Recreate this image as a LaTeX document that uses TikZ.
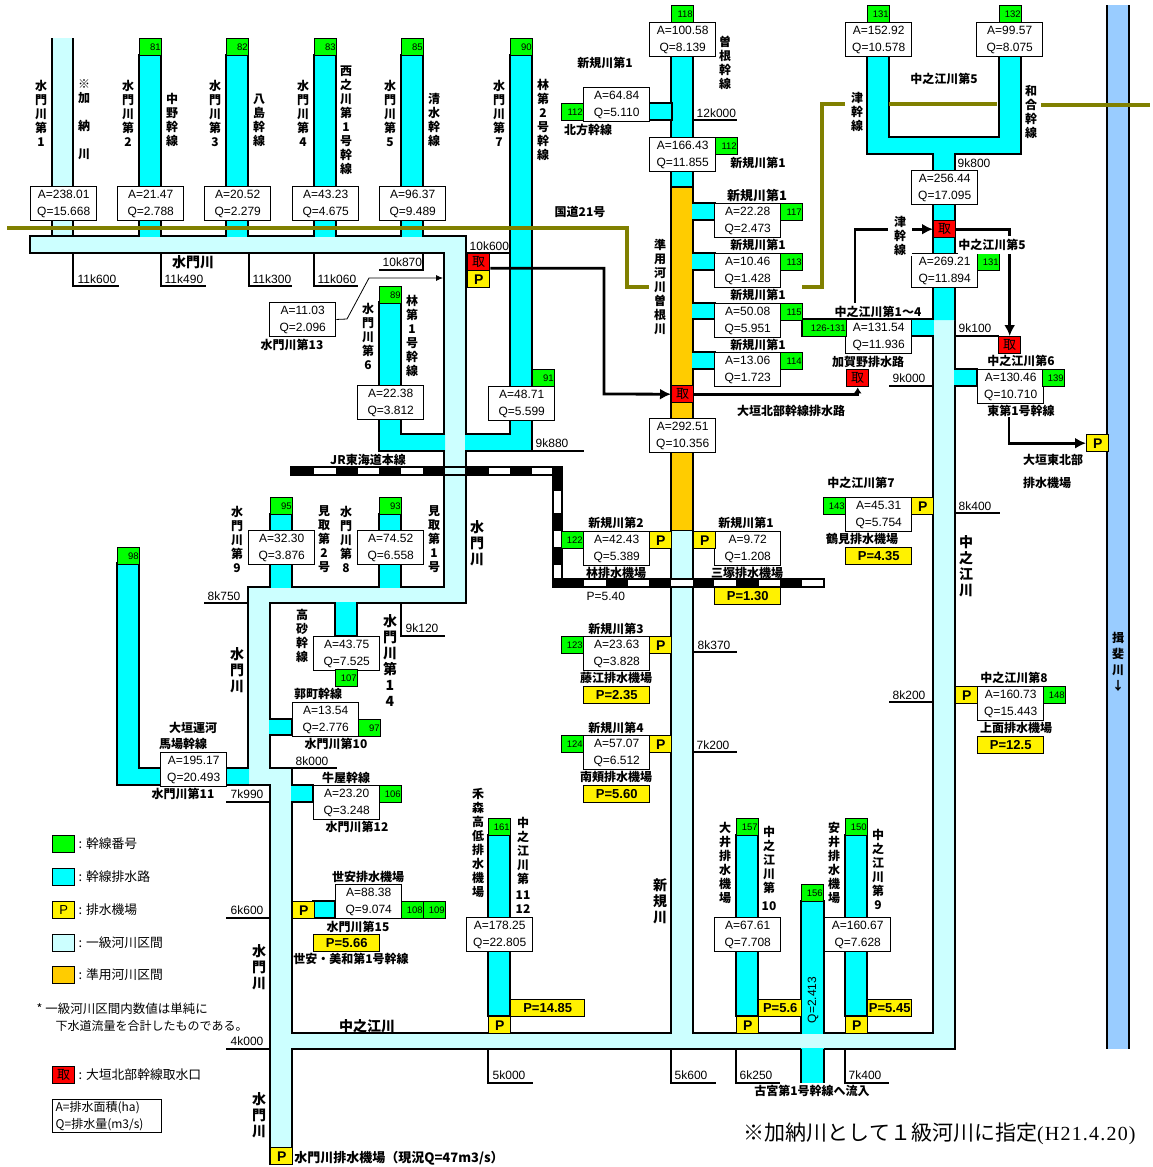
\documentclass[tikz,border=0pt]{standalone}
\usepackage{fontspec}
\setmainfont{Liberation Sans}
\newfontfamily\cjk{Noto Sans CJK JP}
\newfontfamily\footserif[LetterSpace=6]{Liberation Serif}
\usetikzlibrary{arrows.meta}
\definecolor{numgreen}{HTML}{00FF00}
\definecolor{trunkcyan}{HTML}{00FFFF}
\definecolor{rivercyan}{HTML}{CCFFFF}
\definecolor{semiorange}{HTML}{FFCC00}
\definecolor{bigblue}{HTML}{99CCFF}
\definecolor{roadolive}{HTML}{808000}
\tikzset{
  aqbox/.style={draw, fill=white, anchor=north west, inner sep=0pt, minimum width=66pt, minimum height=33.5pt, align=center, font=\fontsize{12}{17}\selectfont, execute at begin node={\rule{0pt}{13pt}}},
  numbox/.style={draw, fill=numgreen, anchor=north west, inner sep=0pt, minimum width=22pt, minimum height=17pt, text width=20pt, align=right, font=\fontsize{9.5}{10}\selectfont},
  pumpbox/.style={draw, fill=yellow, anchor=north west, inner sep=0pt, minimum width=22pt, minimum height=17pt, font=\bfseries\fontsize{14}{14}\selectfont},
  powerbox/.style={draw, fill=yellow, anchor=north west, inner sep=0pt, minimum width=66pt, minimum height=17pt, font=\bfseries\fontsize{13}{13}\selectfont},
  intake/.style={draw, fill=red, anchor=north west, inner sep=0pt, minimum width=22pt, minimum height=17pt, font=\cjk\fontsize{13}{13}\selectfont},
  lab/.style={inner sep=0pt, align=center, font=\cjk\bfseries\fontsize{12}{14}\selectfont},
  biglab/.style={inner sep=0pt, align=center, font=\cjk\bfseries\fontsize{14}{16}\selectfont},
  km/.style={anchor=west, inner sep=0pt, font=\fontsize{12}{12}\selectfont},
  legtxt/.style={anchor=west, inner sep=0pt, font=\cjk\fontsize{12.8}{14}\selectfont},
  trunk/.style={draw, fill=trunkcyan},
  road/.style={draw=roadolive, line width=3.5pt},
  flow/.style={line width=2.8pt, -{Latex[length=11pt,width=11pt]}},
  railblack/.style={fill=black}
}
\begin{document}
\begin{tikzpicture}[x=1pt,y=-1pt,line width=1.4pt]
  \useasboundingbox (0,0) rectangle (1153,1167);

  % Big river on the right
  \fill[bigblue] (1107,5) rectangle (1129,1049);
  \draw (1107,5) -- (1107,1049) (1129,5) -- (1129,1049);

  % Main rivers, one outline
  \fill[rivercyan] (52,38) rectangle (73,237);
  \draw (52,38) -- (52,236) (73,38) -- (73,236);
  \draw[fill=rivercyan] (30,236) -- (466,236) -- (466,603) -- (270,603) -- (270,768) -- (292,768) -- (292,1033)
    -- (671,1033) -- (671,530) -- (693,530) -- (693,1033) -- (933,1033) -- (933,319) -- (955,319) -- (955,1049)
    -- (292,1049) -- (292,1164) -- (270,1164) -- (270,785) -- (248,785) -- (248,587) -- (444,587) -- (444,253)
    -- (30,253) -- cycle;

  % Shinki river, upper part
  \fill[trunkcyan] (671,55) rectangle (693,187);
  \fill[semiorange] (671,187) rectangle (693,530);
  \draw (671,55) -- (671,530) (693,55) -- (693,530) (671,187) -- (693,187);

  % Trunk channels
  \draw[trunk] (139,237) -- (139,55) -- (161,55) -- (161,237);
  \draw[trunk] (226,237) -- (226,55) -- (248,55) -- (248,237);
  \draw[trunk] (314,237) -- (314,55) -- (336,55) -- (336,237);
  \draw[trunk] (401,237) -- (401,55) -- (423,55) -- (423,237);
  \draw[trunk] (445,451) -- (379,451) -- (379,302) -- (401,302) -- (401,434) -- (445,434);
  \draw[trunk] (465,451) -- (532,451) -- (532,55) -- (510,55) -- (510,434) -- (465,434);
  \draw[trunk] (270,588) -- (270,514) -- (292,514) -- (292,588);
  \draw[trunk] (379,588) -- (379,514) -- (401,514) -- (401,588);
  \draw[trunk] (249,785) -- (117,785) -- (117,563) -- (139,563) -- (139,768) -- (249,768);
  \draw[trunk] (335,602) -- (335,636) -- (357,636) -- (357,602);
  \draw[trunk] (269,719) -- (292,719) -- (292,735) -- (269,735);
  \draw[trunk] (291,785) -- (313,785) -- (313,802) -- (291,802);
  \draw[trunk] (313,901) -- (335,901) -- (335,918) -- (313,918) -- cycle;
  \draw[trunk] (488,1016) -- (488,835) -- (510,835) -- (510,1016) -- cycle;
  \draw[trunk] (736,1016) -- (736,835) -- (758,835) -- (758,1016) -- cycle;
  \draw[trunk] (845,1016) -- (845,835) -- (867,835) -- (867,1016) -- cycle;
  \draw[trunk] (801,1034) -- (801,901) -- (824,901) -- (824,1034);
  \fill[trunkcyan] (801,1048) rectangle (824,1083);
  \draw (801,1049) -- (801,1083) (824,1049) -- (824,1083);
  \draw[trunk] (649,103) -- (672,103) -- (672,120) -- (649,120);
  \draw[trunk] (692,203) -- (715,203) -- (715,220) -- (692,220);
  \draw[trunk] (692,253) -- (715,253) -- (715,270) -- (692,270);
  \draw[trunk] (692,303) -- (715,303) -- (715,319) -- (692,319);
  \draw[trunk] (692,352) -- (715,352) -- (715,369) -- (692,369);
  \draw[trunk] (954,369) -- (977,369) -- (977,386) -- (954,386);
  \draw[trunk] (955,320) -- (955,154) -- (1021,154) -- (1021,55) -- (999,55) -- (999,137) -- (889,137) -- (889,55)
    -- (867,55) -- (867,154) -- (933,154) -- (933,320);
  \draw[trunk] (934,319) -- (802,319) -- (802,336) -- (934,336);

  % JR line
  \draw[fill=white] (291,467) rectangle (562,475);
  \draw[fill=white] (553,467) rectangle (562,587);
  \draw[fill=white] (553,579) rectangle (824,587);
  \draw[fill=rivercyan] (444,467) rectangle (466,475);
  \foreach \a/\b in {291/314,336/358,379/401,423/444,466/489,510/532,553/562}
    \fill[railblack] (\a,467) rectangle (\b,475);
  \foreach \a/\b in {467/491,513/531,547/565,579/587}
    \fill[railblack] (553,\a) rectangle (562,\b);
  \foreach \a/\b in {553/584,606/628,649/671,693/714,736/759,780/802}
    \fill[railblack] (\a,579) rectangle (\b,587);

  % Road
  \draw[road] (7,228) -- (627,228) -- (627,287) -- (649,287);
  \draw[road] (802,287) -- (822,287) -- (822,104) -- (845,104);
  \draw[road] (889,104) -- (997,104);
  \draw[road] (1041,105) -- (1150,105);

  % Distance marks
  \draw (73,253) |- (119,286);
  \draw (161,253) |- (206,286);
  \draw (249,253) |- (292,286);
  \draw (314,253) |- (358,286);
  \draw (423,253) |- (379,270);
  \draw (466,253) -- (510,253);
  \draw (532,451) -- (584,451);
  \draw (693,120) -- (737,120);
  \draw (955,336) -- (999,336);
  \draw (889,386) -- (933,386);
  \draw (955,513) -- (1000,513);
  \draw (693,652) -- (737,652);
  \draw (693,752) -- (737,752);
  \draw (889,702) -- (933,702);
  \draw (204,603) -- (248,603);
  \draw (401,603) |- (445,636);
  \draw (292,768) -- (337,768);
  \draw (226,802) -- (270,802);
  \draw (226,918) -- (270,918);
  \draw (226,1049) -- (270,1049);
  \draw (488,1049) |- (533,1083);
  \draw (671,1049) |- (716,1083);
  \draw (736,1049) |- (780,1083);
  \draw (845,1049) |- (889,1083);
  \node[km] (k11600) at (77,279) {11k600};
  \node[km] (k11490) at (164,279) {11k490};
  \node[km] (k11300) at (252,279) {11k300};
  \node[km] (k11060) at (317,279) {11k060};
  \node[km] (k10870) at (382,262) {10k870};
  \node[km] (k10600) at (469,246) {10k600};
  \node[km] (k9880) at (535,443) {9k880};
  \node[km] (k12000) at (696,113) {12k000};
  \node[km] (k9800) at (957,163) {9k800};
  \node[km] (k9100) at (958,328) {9k100};
  \node[km] (k9000) at (892,378) {9k000};
  \node[km] (k8400) at (958,506) {8k400};
  \node[km] (k8370) at (697,645) {8k370};
  \node[km] (k7200) at (696,745) {7k200};
  \node[km] (k8200) at (892,695) {8k200};
  \node[km] (k8750) at (207,596) {8k750};
  \node[km] (k9120) at (405,628) {9k120};
  \node[km] (k8000) at (295,761) {8k000};
  \node[km] (k7990) at (230,794) {7k990};
  \node[km] (k6600) at (230,910) {6k600};
  \node[km] (k4000) at (230,1041) {4k000};
  \node[km] (k5000) at (492,1075) {5k000};
  \node[km] (k5600) at (674,1075) {5k600};
  \node[km] (k6250) at (739,1075) {6k250};
  \node[km] (k7400) at (848,1075) {7k400};
  \node[km] (p540) at (586,596) {P=5.40};
  \node[km, rotate=90, anchor=center] (q156) at (813,1000) {Q=2.413};

  % Area boxes
  \node[aqbox] (a1) at (30,186) {A=238.01\\Q=15.668};
  \node[aqbox] (a2) at (117,186) {A=21.47\\Q=2.788};
  \node[aqbox] (a3) at (204,186) {A=20.52\\Q=2.279};
  \node[aqbox] (a4) at (292,186) {A=43.23\\Q=4.675};
  \node[aqbox] (a5) at (379,186) {A=96.37\\Q=9.489};
  \node[aqbox] (a13) at (269,302) {A=11.03\\Q=2.096};
  \node[aqbox] (a6) at (357,385) {A=22.38\\Q=3.812};
  \node[aqbox] (a7) at (488,386) {A=48.71\\Q=5.599};
  \node[aqbox] (a9) at (248,530) {A=32.30\\Q=3.876};
  \node[aqbox] (a8) at (357,530) {A=74.52\\Q=6.558};
  \node[aqbox] (a14) at (313,636) {A=43.75\\Q=7.525};
  \node[aqbox] (a10) at (292,702) {A=13.54\\Q=2.776};
  \node[aqbox] (a11) at (160,752) {A=195.17\\Q=20.493};
  \node[aqbox] (a12) at (313,785) {A=23.20\\Q=3.248};
  \node[aqbox] (a15) at (335,884) {A=88.38\\Q=9.074};
  \node[aqbox] (c11) at (466,917) {A=178.25\\Q=22.805};
  \node[aqbox] (c10) at (714,917) {A=67.61\\Q=7.708};
  \node[aqbox] (c9) at (824,917) {A=160.67\\Q=7.628};
  \node[aqbox] (s118) at (649,22) {A=100.58\\Q=8.139};
  \node[aqbox] (s112a) at (583,87) {A=64.84\\Q=5.110};
  \node[aqbox] (s112b) at (649,137) {A=166.43\\Q=11.855};
  \node[aqbox] (s117) at (714,203) {A=22.28\\Q=2.473};
  \node[aqbox] (s113) at (714,253) {A=10.46\\Q=1.428};
  \node[aqbox] (s115) at (714,303) {A=50.08\\Q=5.951};
  \node[aqbox] (s114) at (714,352) {A=13.06\\Q=1.723};
  \node[aqbox] (s292) at (649,418) {A=292.51\\Q=10.356};
  \node[aqbox] (s2) at (583,531) {A=42.43\\Q=5.389};
  \node[aqbox] (s1) at (714,531) {A=9.72\\Q=1.208};
  \node[aqbox] (s3) at (583,636) {A=23.63\\Q=3.828};
  \node[aqbox] (s4) at (583,735) {A=57.07\\Q=6.512};
  \node[aqbox] (c131) at (845,22) {A=152.92\\Q=10.578};
  \node[aqbox] (c132) at (976,22) {A=99.57\\Q=8.075};
  \node[aqbox] (c256) at (911,170) {A=256.44\\Q=17.095};
  \node[aqbox] (c269) at (911,253) {A=269.21\\Q=11.894};
  \node[aqbox] (c14) at (845,319) {A=131.54\\Q=11.936};
  \node[aqbox] (c6) at (977,369) {A=130.46\\Q=10.710};
  \node[aqbox] (c7) at (845,497) {A=45.31\\Q=5.754};
  \node[aqbox] (c8) at (977,686) {A=160.73\\Q=15.443};

  % Trunk numbers
  \node[numbox] (n81) at (139,38) {81};
  \node[numbox] (n82) at (226,38) {82};
  \node[numbox] (n83) at (314,38) {83};
  \node[numbox] (n85) at (401,38) {85};
  \node[numbox] (n90) at (510,38) {90};
  \node[numbox] (n89) at (379,286) {89};
  \node[numbox] (n91) at (532,369) {91};
  \node[numbox] (n95) at (270,497) {95};
  \node[numbox] (n93) at (379,497) {93};
  \node[numbox] (n98) at (117,547) {98};
  \node[numbox] (n107) at (335,669) {107};
  \node[numbox] (n97) at (358,719) {97};
  \node[numbox] (n106) at (379,785) {106};
  \node[numbox] (n108) at (401,901) {108};
  \node[numbox] (n109) at (423,901) {109};
  \node[numbox] (n161) at (488,818) {161};
  \node[numbox] (n157) at (736,818) {157};
  \node[numbox] (n150) at (845,818) {150};
  \node[numbox] (n156) at (801,884) {156};
  \node[numbox] (n118) at (671,5) {118};
  \node[numbox] (n112a) at (561,103) {112};
  \node[numbox] (n112b) at (715,137) {112};
  \node[numbox] (n117) at (780,203) {117};
  \node[numbox] (n113) at (780,253) {113};
  \node[numbox] (n115) at (780,303) {115};
  \node[numbox] (n114) at (780,352) {114};
  \node[numbox] (n131a) at (867,5) {131};
  \node[numbox] (n132) at (999,5) {132};
  \node[numbox] (n131b) at (977,253) {131};
  \node[numbox, minimum width=44pt, text width=42pt] (n126) at (802,319) {126-131};
  \node[numbox] (n139) at (1042,369) {139};
  \node[numbox] (n143) at (823,497) {143};
  \node[numbox] (n122) at (561,531) {122};
  \node[numbox] (n123) at (561,636) {123};
  \node[numbox] (n124) at (561,735) {124};
  \node[numbox] (n148) at (1043,686) {148};

  % Pump stations
  \node[pumpbox] (pmain) at (467,270) {P};
  \node[pumpbox] (peast) at (1086,434) {P};
  \node[pumpbox] (ps2) at (649,531) {P};
  \node[pumpbox] (ps1) at (693,531) {P};
  \node[pumpbox] (ps3) at (649,636) {P};
  \node[pumpbox] (ps4) at (649,735) {P};
  \node[pumpbox] (pc7) at (911,497) {P};
  \node[pumpbox] (pc8) at (955,686) {P};
  \node[pumpbox] (pa15) at (292,901) {P};
  \node[pumpbox] (pc11) at (488,1016) {P};
  \node[pumpbox] (pc10) at (736,1016) {P};
  \node[pumpbox] (pc9) at (845,1016) {P};
  \node[pumpbox] (pend) at (270,1147) {P};
  \node[powerbox] (pw435) at (845,547) {P=4.35};
  \node[powerbox] (pw130) at (714,587) {P=1.30};
  \node[powerbox] (pw235) at (583,686) {P=2.35};
  \node[powerbox] (pw560) at (583,785) {P=5.60};
  \node[powerbox] (pw125) at (977,736) {P=12.5};
  \node[powerbox] (pw566) at (313,934) {P=5.66};
  \node[powerbox, minimum width=74pt] (pw1485) at (510,999) {P=14.85};
  \node[powerbox, minimum width=43pt] (pw56) at (758,999) {P=5.6};
  \node[powerbox, minimum width=44pt] (pw545) at (867,999) {P=5.45};

  % Intakes
  \node[intake] (toriA) at (467,253) {取};
  \node[intake] (toriB) at (671,385) {取};
  \node[intake] (toriC) at (846,369) {取};
  \node[intake] (toriD) at (933,220) {取};
  \node[intake] (toriE) at (998,336) {取};

  % Flow arrows
  \coordinate (bendA) at (604,394);
  \coordinate (bendC) at (855,303);
  \coordinate (startE) at (1009,417);
  \draw[flow] ([yshift=-6pt]toriA.east) -| (bendA) -- (toriB.west);
  \draw[flow, -{Latex[length=6pt,width=8pt]}] (toriB.east) -| (toriC.south);
  \draw[flow] (bendC) |- (toriD.west);
  \draw[flow] (toriD.east) -| (toriE.north);
  \draw[flow] (startE) |- (peast.west);
  \coordinate (leadA) at (347,319);
  \coordinate (leadB) at (369,278);
  \coordinate (leadC) at (443,278);
  \draw[line width=0.8pt, -{Latex[length=7pt,width=6pt]}] (a13.east) -- (leadA) -- (leadB) -- (leadC);

  % Vertical labels on the top row
  \node[lab] (v1) at (41,113) {水\\門\\川\\第\\1};
  \node[lab] (v2) at (84,120) {※\\加\\[14pt]納\\[14pt]川};
  \node[lab] (v3) at (128,113) {水\\門\\川\\第\\2};
  \node[lab] (v4) at (172,120) {中\\野\\幹\\線};
  \node[lab] (v5) at (215,113) {水\\門\\川\\第\\3};
  \node[lab] (v6) at (259,120) {八\\島\\幹\\線};
  \node[lab] (v7) at (303,113) {水\\門\\川\\第\\4};
  \node[lab] (v8) at (346,120) {西\\之\\川\\第\\1\\号\\幹\\線};
  \node[lab] (v9) at (390,113) {水\\門\\川\\第\\5};
  \node[lab] (v10) at (434,120) {清\\水\\幹\\線};
  \node[lab] (v11) at (499,113) {水\\門\\川\\第\\7};
  \node[lab] (v12) at (543,120) {林\\第\\2\\号\\幹\\線};

  % Other vertical labels
  \node[lab] (v13) at (725,63) {曽\\根\\幹\\線};
  \node[lab] (v14) at (660,287) {準\\用\\河\\川\\曽\\根\\川};
  \node[lab] (v15) at (857,112) {津\\幹\\線};
  \node[lab] (v16) at (1031,112) {和\\合\\幹\\線};
  \node[lab, fill=white, inner xsep=6pt] (v17) at (900,236) {津\\幹\\線};
  \node[lab] (v18) at (368,336) {水\\門\\川\\第\\6};
  \node[lab] (v19) at (412,336) {林\\第\\1\\号\\幹\\線};
  \node[lab] (v20) at (237,539) {水\\門\\川\\第\\9};
  \node[lab] (v21) at (324,539) {見\\取\\第\\2\\号};
  \node[lab] (v22) at (346,539) {水\\門\\川\\第\\8};
  \node[lab] (v23) at (434,539) {見\\取\\第\\1\\号};
  \node[lab] (v24) at (302,636) {高\\砂\\幹\\線};
  \node[lab] (v25) at (478,843) {禾\\森\\高\\低\\排\\水\\機\\場};
  \node[lab] (v26) at (523,865) {中\\之\\江\\川\\第\\[2pt]11\\12};
  \node[lab] (v27) at (725,863) {大\\井\\排\\水\\機\\場};
  \node[lab] (v28) at (769,868) {中\\之\\江\\川\\第\\[4pt]10};
  \node[lab] (v29) at (834,863) {安\\井\\排\\水\\機\\場};
  \node[lab] (v30) at (878,869) {中\\之\\江\\川\\第\\9};
  \node[biglab] (r1) at (477,543) {水\\門\\川};
  \node[biglab] (r2) at (237,670) {水\\門\\川};
  \node[biglab] (r3) at (390,661) {水\\門\\川\\第\\1\\4};
  \node[biglab] (r4) at (259,967) {水\\門\\川};
  \node[biglab] (r5) at (259,1115) {水\\門\\川};
  \node[biglab] (r6) at (966,566) {中\\之\\江\\川};
  \node[biglab] (r7) at (660,901) {新\\規\\川};
  \node[lab, font=\cjk\bfseries\fontsize{12}{16}\selectfont] (r8) at (1118,662) {揖\\斐\\川\\↓};

  % Horizontal labels
  \node[biglab] (h1) at (193,262) {水門川};
  \node[biglab] (h2) at (367,1026) {中之江川};
  \node[lab] (h3) at (580,212) {国道21号};
  \node[lab] (h4) at (605,63) {新規川第1};
  \node[lab] (h5) at (588,130) {北方幹線};
  \node[lab] (h6) at (758,163) {新規川第1};
  \node[lab, font=\cjk\bfseries\fontsize{13}{14}\selectfont] (h7) at (757,196) {新規川第1};
  \node[lab] (h8) at (758,245) {新規川第1};
  \node[lab] (h9) at (758,295) {新規川第1};
  \node[lab] (h10) at (758,345) {新規川第1};
  \node[lab] (h11) at (944,79) {中之江川第5};
  \node[lab, fill=white, inner ysep=3pt] (h12) at (992,245) {中之江川第5};
  \node[lab] (h13) at (878,312) {中之江川第1～4};
  \node[lab] (h14) at (868,362) {加賀野排水路};
  \node[lab] (h15) at (1021,361) {中之江川第6};
  \node[lab] (h16) at (1021,411) {東第1号幹線};
  \node[lab] (h17) at (791,411) {大垣北部幹線排水路};
  \node[lab] (h18) at (1053,460) {大垣東北部};
  \node[lab] (h19) at (1047,483) {排水機場};
  \node[lab] (h20) at (861,483) {中之江川第7};
  \node[lab] (h21) at (862,539) {鶴見排水機場};
  \node[lab] (h22) at (616,523) {新規川第2};
  \node[lab] (h23) at (746,523) {新規川第1};
  \node[lab] (h24) at (616,573) {林排水機場};
  \node[lab] (h25) at (747,573) {三塚排水機場};
  \node[lab] (h26) at (616,629) {新規川第3};
  \node[lab] (h27) at (616,678) {藤江排水機場};
  \node[lab] (h28) at (616,728) {新規川第4};
  \node[lab] (h29) at (616,777) {南頬排水機場};
  \node[lab] (h30) at (1014,678) {中之江川第8};
  \node[lab] (h31) at (1016,728) {上面排水機場};
  \node[lab] (h32) at (292,345) {水門川第13};
  \node[lab] (h33) at (368,460) {JR東海道本線};
  \node[lab] (h34) at (318,694) {郭町幹線};
  \node[lab] (h35) at (336,744) {水門川第10};
  \node[lab] (h36) at (193,728) {大垣運河};
  \node[lab] (h37) at (183,744) {馬場幹線};
  \node[lab] (h38) at (183,794) {水門川第11};
  \node[lab] (h39) at (346,778) {牛屋幹線};
  \node[lab] (h40) at (357,827) {水門川第12};
  \node[lab] (h41) at (368,877) {世安排水機場};
  \node[lab] (h42) at (358,927) {水門川第15};
  \node[lab] (h43) at (351,959) {世安・美和第1号幹線};
  \node[lab, font=\cjk\bfseries\fontsize{13}{14}\selectfont] (h44) at (399,1158) {水門川排水機場（現況Q=47m3/s）};
  \node[lab] (h45) at (812,1091) {古宮第1号幹線へ流入};

  % Legend
  \node[numbox] (leg1) at (52,835) {};
  \node[draw, fill=trunkcyan, anchor=north west, minimum width=22pt, minimum height=17pt, inner sep=0pt] (leg2) at (52,868) {};
  \node[pumpbox, font=\fontsize{13}{13}\selectfont] (leg3) at (52,901) {P};
  \node[draw, fill=rivercyan, anchor=north west, minimum width=22pt, minimum height=17pt, inner sep=0pt] (leg4) at (52,934) {};
  \node[draw, fill=semiorange, anchor=north west, minimum width=22pt, minimum height=17pt, inner sep=0pt] (leg5) at (52,966) {};
  \node[intake] (leg6) at (52,1066) {取};
  \node[legtxt] (lt1) at (78,844) {: 幹線番号};
  \node[legtxt] (lt2) at (78,877) {: 幹線排水路};
  \node[legtxt] (lt3) at (78,910) {: 排水機場};
  \node[legtxt] (lt4) at (78,943) {: 一級河川区間};
  \node[legtxt] (lt5) at (78,975) {: 準用河川区間};
  \node[legtxt] (lt6) at (78,1075) {: 大垣北部幹線取水口};
  \node[legtxt, font=\cjk\fontsize{12.5}{14}\selectfont] (lt7) at (36,1009) {* 一級河川区間内数値は単純に};
  \node[legtxt, font=\cjk\fontsize{12}{14}\selectfont] (lt8) at (55,1026) {下水道流量を合計したものである。};
  \node[draw, anchor=north west, minimum width=109pt, minimum height=33pt, inner xsep=3pt, inner ysep=0pt, text width=103pt, align=left, font=\cjk\fontsize{12}{17}\selectfont] (leg7) at (52,1099) {A=排水面積(ha)\\Q=排水量(m3/s)};

  % Footnote
  \node[anchor=west, inner sep=0pt, font=\cjk\fontsize{21}{21}\selectfont] (foot) at (743,1134) {※加納川として１級河川に指定{\footserif\fontsize{20}{20}\selectfont(H21.4.20)}};
\end{tikzpicture}
\end{document}
